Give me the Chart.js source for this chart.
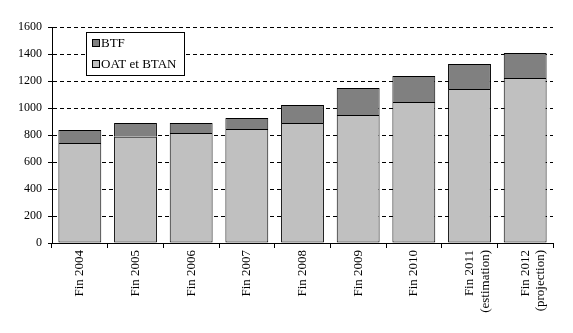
<!DOCTYPE html>
<html>
<head>
<meta charset="utf-8">
<script src="https://cdn.jsdelivr.net/npm/chart.js@4/dist/chart.umd.min.js"></script>
<style>
  html, body { margin: 0; padding: 0; background: #fff; }
  #wrap { width: 573px; height: 333px; position: relative; }
</style>
</head>
<body>
<div id="wrap"><canvas id="chart"></canvas></div>
<script>
const categories = [
  'Fin 2004', 'Fin 2005', 'Fin 2006', 'Fin 2007', 'Fin 2008', 'Fin 2009', 'Fin 2010',
  ['Fin 2011', '(estimation)'], ['Fin 2012', '(projection)']
];
const oatBtan = [741, 787, 815, 844, 889, 948, 1044, 1141, 1222];
const btf = [96, 102, 74, 82, 133, 200, 193, 185, 185];
const yTicks = [0, 200, 400, 600, 800, 1000, 1200, 1400, 1600];

const serif = '"Liberation Serif", "Times New Roman", serif';

// legend drawn as a framed box inside the plot, BTF listed first
const boxLegend = {
  id: 'boxLegend',
  afterDraw(chart) {
    const ctx = chart.ctx;
    const x = 86, y = 32, w = 98, h = 43;
    ctx.save();
    ctx.fillStyle = '#fff';
    ctx.fillRect(x, y, w, h);
    ctx.strokeStyle = '#000';
    ctx.lineWidth = 1;
    ctx.strokeRect(x + 0.5, y + 0.5, w, h);
    ctx.font = '13px ' + serif;
    ctx.textBaseline = 'middle';
    const items = chart.data.datasets.slice().reverse();
    items.forEach((ds, i) => {
      const cy = y + 11 + i * 21;
      ctx.fillStyle = ds.backgroundColor;
      ctx.fillRect(x + 6, cy - 3.5, 7, 7);
      ctx.strokeRect(x + 6.5, cy - 3.5, 7, 7);
      ctx.fillStyle = '#000';
      ctx.fillText(ds.label, x + 15, cy + 1);
    });
    ctx.restore();
  }
};

new Chart(document.getElementById('chart'), {
  type: 'bar',
  data: {
    labels: categories,
    datasets: [
      {
        label: 'OAT et BTAN',
        data: oatBtan,
        backgroundColor: '#c0c0c0',
        borderColor: '#000',
        borderWidth: 1,
        borderSkipped: false
      },
      {
        label: 'BTF',
        data: btf,
        backgroundColor: '#808080',
        borderColor: '#000',
        borderWidth: 1,
        borderSkipped: 'start'
      }
    ]
  },
  options: {
    responsive: true,
    maintainAspectRatio: false,
    animation: false,
    datasets: { bar: { barPercentage: 0.77, categoryPercentage: 1 } },
    layout: { padding: { top: 27, right: 20, left: 0, bottom: 0 } },
    plugins: {
      legend: { display: false },
      tooltip: { enabled: false }
    },
    scales: {
      x: {
        stacked: true,
        afterFit: (scale) => { scale.height = 90; },
        grid: {
          offset: true,
          drawOnChartArea: false,
          drawTicks: true,
          tickLength: 5,
          tickColor: '#000'
        },
        border: { display: true, color: '#000', width: 1 },
        ticks: {
          minRotation: 90,
          maxRotation: 90,
          autoSkip: false,
          padding: 2,
          color: '#000',
          font: { family: serif, size: 13 }
        }
      },
      y: {
        stacked: true,
        min: 0,
        max: 1600,
        afterFit: (scale) => { scale.width = 52; },
        afterBuildTicks: (scale) => { scale.ticks = yTicks.map((v) => ({ value: v })); },
        grid: {
          color: '#000',
          lineWidth: 1,
          drawTicks: true,
          tickLength: 4,
          tickColor: '#000',
          tickBorderDash: []
        },
        border: { display: true, color: '#000', width: 1, dash: [4, 3] },
        ticks: {
          padding: 6,
          color: '#000',
          font: { family: serif, size: 12 },
          callback: (value) => String(value)
        }
      }
    }
  },
  plugins: [boxLegend]
});
</script>
</body>
</html>
